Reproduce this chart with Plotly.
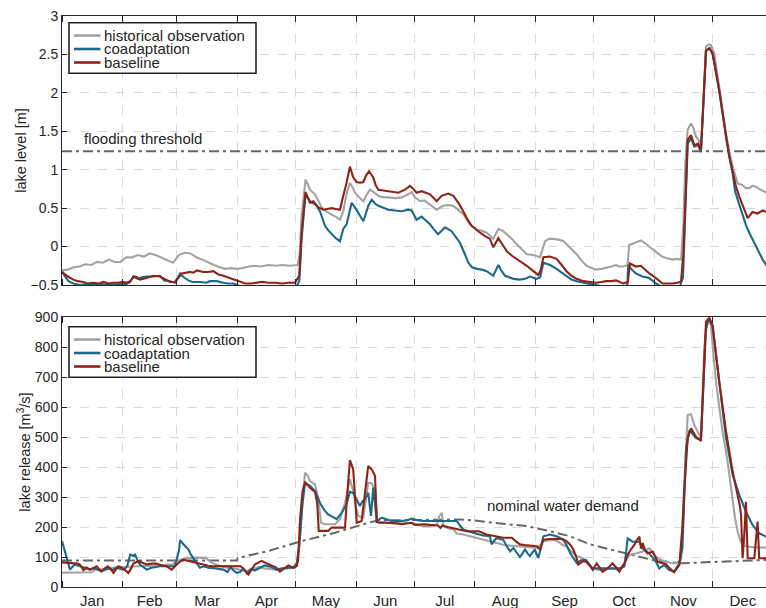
import plotly.graph_objects as go

# ---------------- data (day of year) ----------------
months = ["Jan", "Feb", "Mar", "Apr", "May", "Jun", "Jul", "Aug", "Sep", "Oct", "Nov", "Dec"]
month_starts = [0, 31, 59, 90, 120, 151, 181, 212, 243, 273, 304, 334]
month_mids = [15.5, 45, 74.5, 105, 135.5, 166, 196.5, 227.5, 258, 288.5, 319, 349.5]

flood_threshold = 1.24
threshold_days = [0, 365]

# lake level [m]
hist_level_days = [0, 3, 6, 9, 12, 15, 18, 21, 24, 27, 30, 33, 36, 39, 42, 45, 48, 51, 54, 57, 60, 63, 66, 69, 72, 75, 78, 81, 84, 87, 90, 93, 96, 99, 102, 106, 110, 113, 117, 121, 122, 123, 125, 126, 127.3, 129.9, 131.5, 133.3, 136, 138.4, 141, 142.7, 144.4, 146, 147.8, 149, 150.4, 152.5, 154.7, 156.5, 158.1, 160, 162.4, 165, 167.5, 171, 174.4, 177.8, 179.5, 181.2, 183.8, 186, 189, 192.3, 195.7, 198, 200.9, 203.5, 206, 209.4, 212.9, 215, 218, 221.4, 224, 226, 228.3, 231, 233.4, 236, 238.6, 242, 245.4, 246.5, 248, 250, 252.2, 255, 257.4, 261, 264.2, 267, 269.3, 272, 274, 277, 279, 282, 284.4, 286, 288, 290.3, 291.2, 293, 294.6, 297.2, 299, 301.5, 303.5, 305.8, 308, 310, 313.5, 315.5, 317.8, 319, 320, 321.2, 322.9, 324, 325.5, 327, 328, 329.3, 330.6, 332, 333.2, 334.9, 337.4, 339, 340.9, 342.5, 344.3, 346.9, 349.4, 351, 352.8, 354.5, 356.2, 358.5, 361.4, 365]
hist_level = [-0.31, -0.30, -0.27, -0.26, -0.23, -0.24, -0.20, -0.21, -0.17, -0.20, -0.20, -0.14, -0.14, -0.11, -0.13, -0.09, -0.11, -0.14, -0.18, -0.21, -0.11, -0.08, -0.09, -0.14, -0.17, -0.21, -0.24, -0.27, -0.29, -0.28, -0.29, -0.28, -0.26, -0.25, -0.26, -0.24, -0.25, -0.24, -0.25, -0.24, -0.10, 0.40, 0.87, 0.82, 0.74, 0.68, 0.60, 0.51, 0.45, 0.42, 0.38, 0.35, 0.46, 0.68, 0.83, 0.78, 0.70, 0.64, 0.59, 0.68, 0.74, 0.71, 0.66, 0.64, 0.64, 0.63, 0.64, 0.68, 0.71, 0.64, 0.59, 0.60, 0.54, 0.48, 0.53, 0.54, 0.53, 0.48, 0.42, 0.29, 0.22, 0.21, 0.18, 0.10, 0.23, 0.21, 0.16, 0.10, 0.03, -0.04, -0.10, -0.11, -0.14, -0.05, 0.07, 0.10, 0.10, 0.09, 0.07, -0.02, -0.10, -0.19, -0.25, -0.28, -0.30, -0.29, -0.28, -0.26, -0.24, -0.26, -0.26, -0.24, 0.02, 0.04, 0.05, 0.08, 0.05, 0.0, -0.05, -0.09, -0.13, -0.15, -0.17, -0.16, -0.17, 0.30, 1.10, 1.52, 1.60, 1.55, 1.43, 1.38, 1.26, 1.90, 2.60, 2.63, 2.62, 2.51, 2.08, 1.78, 1.47, 1.25, 1.04, 0.82, 0.80, 0.76, 0.76, 0.79, 0.78, 0.74, 0.70, 0.66]

coad_level_days = [0, 3.3, 5.8, 9, 13, 17, 21, 25, 29, 33, 35, 36.5, 38.9, 41, 43.5, 47, 50.3, 52.5, 55.5, 58, 60.6, 62.5, 64.9, 67, 70.8, 74, 76, 79.5, 82.8, 85, 88, 91, 95, 100, 105, 110, 115, 120, 121.8, 123, 125, 126, 127.3, 129.9, 131, 132.4, 133.7, 135, 136.7, 138.4, 140.5, 142.7, 144.4, 146.1, 147.5, 148.7, 150.4, 152.5, 154.7, 156, 157.2, 159, 160.7, 162.4, 165, 167.5, 171, 174.4, 177.8, 179.5, 182, 184.6, 186.8, 188.9, 191, 193.1, 196.6, 200, 202, 204.3, 206.5, 208.6, 210.5, 212.9, 215.5, 218, 221.4, 224, 225.5, 227.4, 231.7, 235, 237.7, 240.2, 243.7, 245.5, 247.1, 250.5, 253.9, 256.5, 259, 261.5, 264.2, 267, 269.5, 272, 274, 278, 283, 288, 290.2, 290.7, 292.5, 294.6, 298, 301.5, 304.9, 307, 312, 317, 318.8, 320, 321.2, 322.9, 324.6, 326.5, 328, 329.3, 330.6, 332.4, 334, 337.4, 339, 340.9, 342.5, 344.3, 345.5, 346.9, 348.6, 351.1, 352.8, 354.5, 356.2, 357.9, 359.7, 361.4, 365]
coad_level = [-0.33, -0.45, -0.48, -0.50, -0.49, -0.50, -0.49, -0.50, -0.49, -0.49, -0.46, -0.39, -0.42, -0.40, -0.39, -0.39, -0.38, -0.44, -0.45, -0.47, -0.35, -0.40, -0.44, -0.46, -0.46, -0.47, -0.45, -0.45, -0.47, -0.48, -0.48, -0.51, -0.53, -0.52, -0.53, -0.52, -0.53, -0.53, -0.45, 0.10, 0.68, 0.64, 0.59, 0.55, 0.52, 0.46, 0.36, 0.27, 0.21, 0.16, 0.11, 0.07, 0.23, 0.29, 0.45, 0.57, 0.51, 0.42, 0.33, 0.43, 0.53, 0.61, 0.56, 0.53, 0.50, 0.48, 0.47, 0.46, 0.48, 0.47, 0.35, 0.39, 0.34, 0.29, 0.22, 0.16, 0.25, 0.20, 0.13, 0.05, -0.08, -0.21, -0.27, -0.29, -0.30, -0.32, -0.38, -0.24, -0.31, -0.38, -0.42, -0.43, -0.42, -0.39, -0.42, -0.40, -0.21, -0.24, -0.29, -0.34, -0.39, -0.43, -0.45, -0.47, -0.48, -0.49, -0.50, -0.52, -0.52, -0.53, -0.50, -0.24, -0.30, -0.35, -0.39, -0.41, -0.48, -0.51, -0.53, -0.53, -0.40, 0.60, 1.34, 1.41, 1.30, 1.32, 1.23, 1.88, 2.55, 2.58, 2.51, 2.03, 1.73, 1.43, 1.18, 0.95, 0.72, 0.61, 0.48, 0.28, 0.18, 0.09, 0.0, -0.09, -0.17, -0.24, -0.38]

base_level_days = [0, 2.4, 5.8, 8, 10.9, 13, 16, 19, 21.2, 24, 26.3, 29, 31, 33, 35, 37, 38.5, 40, 42, 44, 47, 50.3, 53, 55.5, 58, 60, 61.5, 63.5, 65.7, 67.5, 69.2, 72.5, 75, 77.7, 80, 82.8, 85, 88, 91.4, 94, 97.3, 100, 102.5, 106, 109.3, 113, 116, 119.6, 121.8, 123, 125, 126, 127.3, 129, 130.5, 131.6, 134.1, 136, 138.4, 140.5, 142.7, 144.4, 146, 147.8, 149.5, 151.2, 153, 154.7, 156, 157.6, 159.8, 161, 162.4, 165, 167.5, 170, 172.7, 176.1, 178.6, 180, 182, 184.6, 186.5, 188.9, 190.5, 192.3, 194.9, 198.3, 200.9, 203.5, 206, 208, 210.3, 212.5, 214.6, 217, 219.7, 221.4, 224, 226, 228.3, 231, 233.4, 236, 238.6, 241.5, 244.5, 245.8, 247.1, 250.5, 252, 253.9, 256.5, 259, 261.5, 264.2, 267.6, 271, 274.1, 277, 279.3, 282, 284.4, 288, 290.5, 291.5, 294.6, 297.2, 299.5, 301.5, 304.9, 308.3, 311, 313.5, 316, 317.8, 319, 320, 321.2, 322.9, 324.6, 326.5, 328, 329.3, 330.6, 332.4, 334, 337.4, 339, 340.9, 342.5, 344.3, 346, 347.7, 350.3, 352, 354.5, 357.1, 359.7, 361.4, 365]
base_level = [-0.33, -0.38, -0.43, -0.45, -0.46, -0.48, -0.47, -0.48, -0.46, -0.48, -0.47, -0.47, -0.46, -0.47, -0.45, -0.39, -0.40, -0.43, -0.42, -0.40, -0.38, -0.39, -0.43, -0.46, -0.46, -0.40, -0.35, -0.34, -0.33, -0.34, -0.31, -0.33, -0.33, -0.32, -0.36, -0.38, -0.40, -0.43, -0.46, -0.48, -0.48, -0.47, -0.46, -0.47, -0.47, -0.48, -0.47, -0.47, -0.38, 0.18, 0.71, 0.65, 0.57, 0.59, 0.55, 0.51, 0.48, 0.49, 0.50, 0.49, 0.48, 0.66, 0.82, 1.04, 0.90, 0.84, 0.83, 0.84, 0.92, 0.98, 0.90, 0.80, 0.74, 0.73, 0.72, 0.71, 0.70, 0.74, 0.79, 0.76, 0.70, 0.72, 0.70, 0.68, 0.64, 0.59, 0.66, 0.69, 0.66, 0.57, 0.46, 0.36, 0.27, 0.22, 0.18, 0.14, 0.10, -0.01, 0.11, 0.03, -0.06, -0.12, -0.16, -0.21, -0.25, -0.31, -0.37, -0.30, -0.14, -0.13, -0.14, -0.16, -0.24, -0.32, -0.38, -0.42, -0.45, -0.46, -0.47, -0.46, -0.45, -0.45, -0.44, -0.48, -0.46, -0.22, -0.26, -0.25, -0.30, -0.35, -0.41, -0.48, -0.48, -0.48, -0.47, -0.45, -0.09, 0.70, 1.39, 1.45, 1.32, 1.34, 1.26, 1.90, 2.55, 2.58, 2.51, 2.03, 1.73, 1.43, 1.18, 0.95, 0.78, 0.65, 0.48, 0.37, 0.45, 0.43, 0.47, 0.45, 0.47]

# lake release [m3/s]
demand_days = [0, 89.9, 90.1, 105.9, 123, 140.2, 157.2, 162.4, 205, 213, 221.4, 238.6, 250.5, 260.8, 271.1, 286.1, 303.2, 316.9, 337.4, 361.4, 365]
demand = [88, 88, 96, 120, 153, 181, 214, 222, 225, 221, 214, 203, 186, 169, 142, 118, 90, 79, 84, 90, 91]

hist_release_days = [0, 3, 6, 9, 12, 15, 17, 19, 21, 24, 27, 30, 33, 36, 39, 42, 45, 48, 51, 54, 57, 58.5, 60, 62, 64, 67, 70, 74, 76, 78, 81, 84, 87, 90, 92, 95, 98, 101, 104, 107, 110, 113, 116, 119.6, 121, 122.2, 123.5, 124.8, 126, 127.3, 129.9, 130.8, 131.6, 133, 135, 137.5, 140.2, 142.7, 145.3, 147.8, 149.5, 150.8, 152.1, 154.7, 156, 157.2, 159, 160.7, 162, 165.8, 170, 175, 178.6, 181.2, 185.5, 190, 192.5, 193.7, 195, 195.8, 198, 201, 202.6, 206, 209, 212.9, 216, 219.7, 222, 224.9, 227, 230, 233, 236.9, 240, 243.7, 245.5, 247.1, 250, 252.2, 255, 257, 259, 261.5, 264.2, 267.5, 269, 272.4, 275, 277.5, 282, 286.1, 288.7, 291.2, 294.6, 298, 301.5, 303, 304.9, 307.5, 310, 312.5, 315.2, 317.7, 319.5, 321.2, 322.9, 324.6, 326.3, 328, 329.7, 331.4, 333.1, 335.7, 337.4, 339.1, 341.7, 343, 344.3, 345.5, 346.9, 348.2, 349.4, 351, 352.8, 356, 361.4, 365]
hist_release = [48, 48, 47, 48, 48, 49, 56, 57, 58, 62, 65, 66, 68, 70, 69, 70, 70, 71, 72, 73, 76, 86, 88, 93, 97, 98, 98, 97, 84, 78, 70, 65, 63, 60, 56, 53, 60, 66, 62, 60, 58, 60, 62, 64, 90, 159, 300, 381, 372, 353, 342, 320, 292, 214, 209, 209, 209, 226, 281, 359, 320, 270, 237, 231, 300, 348, 346, 320, 217, 214, 213, 212, 214, 210, 203, 203, 210, 236, 247, 203, 196, 192, 178, 175, 170, 164, 158, 153, 147, 142, 140, 138, 137, 136, 133, 130, 140, 153, 156, 158, 150, 140, 136, 118, 103, 95, 84, 62, 58, 57, 62, 57, 79, 107, 112, 118, 129, 118, 101, 90, 84, 80, 79, 90, 351, 573, 576, 540, 518, 496, 796, 896, 873, 684, 600, 518, 418, 350, 284, 230, 184, 155, 140, 136, 134, 132, 131, 131]

coad_release_days = [0, 1, 2, 3, 4.1, 5.5, 6.7, 8, 9.2, 11, 12.7, 14, 16, 18, 20, 22, 24, 26, 28, 30, 32, 33.5, 35, 36.5, 37.5, 39, 40, 42, 43.5, 46, 48, 50.3, 53, 56, 58, 60, 60.6, 62, 63.1, 64.9, 66, 67.4, 69, 70.8, 73, 75, 78, 80, 82.8, 85, 86.5, 88, 89.7, 91.4, 93, 95, 97, 99, 101, 104, 107, 110, 113, 116, 119, 120.5, 121.8, 123.5, 124.8, 126, 127.3, 129.9, 131, 132.4, 134.5, 136.6, 139, 141, 143.6, 146.1, 147.8, 149.5, 151, 152.9, 154.2, 155.5, 157.2, 158.6, 159.8, 160.8, 161.6, 164.1, 166.5, 169.2, 174, 177, 179.5, 181, 183, 186, 190, 195, 200, 202.6, 204.3, 206, 209, 212.9, 216, 219.7, 220.5, 222, 223.1, 224.8, 226.5, 228.3, 230, 231.7, 233.4, 235.1, 236.4, 237.7, 239, 240.2, 241.5, 242.8, 243.6, 244.5, 245.8, 247.1, 250.5, 253.9, 257.4, 259, 260.8, 262.5, 264.2, 266, 267.6, 269, 270.7, 272.4, 275, 277.5, 282, 286.1, 288.7, 290.4, 292.9, 296.4, 298, 301.5, 304.9, 306.6, 309, 311.6, 314.2, 316.9, 318.5, 320.4, 322.1, 325.5, 328, 330.6, 332.3, 334, 337.4, 340.9, 344.3, 347.7, 351.1, 354.5, 357.9, 361.4, 365]
coad_release = [153, 130, 103, 80, 58, 68, 75, 72, 69, 66, 64, 58, 62, 60, 52, 58, 62, 56, 65, 60, 58, 70, 108, 104, 108, 85, 75, 65, 58, 64, 67, 69, 69, 70, 70, 120, 156, 145, 136, 125, 110, 97, 80, 64, 69, 64, 63, 60, 58, 50, 67, 55, 47, 50, 62, 45, 60, 55, 62, 72, 68, 58, 62, 64, 66, 80, 137, 280, 348, 342, 337, 320, 300, 281, 258, 242, 234, 226, 248, 276, 317, 314, 295, 270, 285, 292, 314, 237, 331, 270, 220, 231, 225, 220, 220, 222, 228, 225, 222, 220, 220, 220, 220, 220, 205, 192, 185, 178, 172, 169, 142, 155, 164, 160, 158, 136, 119, 130, 115, 100, 112, 125, 112, 103, 115, 125, 110, 97, 130, 169, 175, 169, 158, 140, 114, 95, 80, 88, 91, 90, 75, 62, 62, 62, 62, 62, 68, 162, 151, 151, 129, 112, 84, 62, 73, 57, 51, 79, 129, 462, 523, 496, 490, 862, 896, 873, 684, 496, 373, 307, 251, 207, 179, 168, 160]

base_release_days = [0, 3, 5.8, 8, 9.2, 11, 12.7, 14.5, 16, 17.8, 19, 20.4, 22, 23.5, 25, 26.4, 28.9, 30.5, 32, 34.1, 35.5, 36.6, 39.2, 41, 43.5, 46, 48.6, 51, 53.7, 56.3, 58.9, 60.5, 62.3, 64.5, 67.4, 70, 72.5, 75, 77.7, 80, 84, 87, 89.7, 91.5, 93, 95.7, 97.5, 99.1, 101, 102.5, 104, 105.9, 108, 110, 111.9, 114, 116.2, 118.8, 120.5, 121.2, 122.2, 123.5, 124.8, 126, 127.3, 129.9, 131, 131.8, 134, 136.6, 138.4, 142, 145.3, 146.1, 147.8, 149.5, 150.5, 151.3, 153.8, 155.5, 157.2, 159, 160.7, 161.6, 163, 166, 169.2, 172, 174.4, 177, 179.5, 181.2, 183.5, 186, 189, 193, 194.3, 195.2, 198, 201, 204.3, 207.7, 211, 214, 218, 222, 226.5, 229, 231, 233, 235.1, 237.5, 240.2, 243.7, 245.4, 246.5, 247.1, 250, 253, 255.6, 257, 259, 261, 262.5, 264, 265, 267.6, 269, 271.1, 272.4, 274.5, 277.5, 280, 282.6, 284.5, 286.1, 288.7, 290.4, 292, 293.8, 295, 296.4, 297.2, 298.1, 299.5, 300.6, 303.2, 305.8, 308, 310, 312, 314.2, 316.9, 318.5, 319.5, 321.2, 322.9, 325.5, 328, 329.3, 330.6, 332.3, 334, 337.4, 340.9, 344.3, 346.9, 348, 348.6, 349.4, 350.3, 351.1, 352, 355.4, 357.1, 357.9, 361.4, 365]
base_release = [82, 81, 80, 78, 75, 56, 64, 58, 63, 69, 60, 52, 62, 69, 60, 47, 69, 65, 58, 47, 62, 78, 86, 82, 75, 78, 78, 72, 69, 58, 75, 85, 91, 88, 82, 78, 75, 71, 69, 70, 69, 69, 69, 70, 62, 42, 60, 76, 82, 87, 82, 76, 72, 65, 51, 60, 72, 64, 70, 90, 226, 320, 348, 340, 331, 317, 280, 187, 187, 187, 198, 198, 198, 281, 423, 392, 300, 214, 220, 303, 403, 392, 370, 217, 214, 214, 214, 212, 209, 212, 214, 207, 209, 209, 207, 205, 197, 205, 200, 196, 192, 186, 186, 186, 175, 170, 164, 164, 164, 152, 142, 140, 138, 136, 125, 145, 158, 160, 160, 161, 158, 153, 140, 125, 100, 75, 86, 84, 70, 57, 79, 51, 62, 79, 65, 51, 79, 107, 125, 140, 155, 168, 129, 146, 120, 112, 118, 84, 80, 76, 62, 49, 73, 200, 329, 496, 529, 501, 487, 700, 884, 896, 868, 684, 518, 384, 307, 270, 240, 96, 180, 284, 96, 96, 218, 96, 96, 96]

series_names = ["historical observation", "coadaptation", "baseline"]

# ---------------- styling ----------------
GRAY = "#a3a3a3"
BLUE = "#1b6a8c"
RED = "#8e2417"
COLORS = [GRAY, BLUE, RED]
DEMAND = "#666666"
TXT = "#262626"
GRID = "#dadada"
FONT = "Liberation Sans, Arial, sans-serif"
LW = 2.1
DASHDOT = "10px,4px,3px,4px"
FS = 15
TICKFS = 14

W, H = 766, 608
ML, MR, MT, MB = 62, 0, 16, 21


def px_x(px):
    return (px - ML) / (W - ML - MR)


def px_y(py):
    return (H - MB - py) / (H - MT - MB)


fig = go.Figure()

fig.add_trace(go.Scatter(x=threshold_days, y=[flood_threshold] * len(threshold_days), mode="lines",
                         line=dict(color=DEMAND, width=2, dash=DASHDOT),
                         showlegend=False, hoverinfo="skip", xaxis="x", yaxis="y"))
for name, xs, ys, col in zip(series_names, [hist_level_days, coad_level_days, base_level_days],
                             [hist_level, coad_level, base_level], COLORS):
    fig.add_trace(go.Scatter(x=xs, y=ys, name=name, mode="lines", showlegend=False,
                             line=dict(color=col, width=LW), xaxis="x", yaxis="y"))

fig.add_trace(go.Scatter(x=demand_days, y=demand, mode="lines",
                         line=dict(color=DEMAND, width=2, dash=DASHDOT),
                         showlegend=False, hoverinfo="skip", xaxis="x2", yaxis="y2"))
for name, xs, ys, col in zip(series_names, [hist_release_days, coad_release_days, base_release_days],
                             [hist_release, coad_release, base_release], COLORS):
    fig.add_trace(go.Scatter(x=xs, y=ys, name=name, mode="lines", showlegend=False,
                             line=dict(color=col, width=LW), xaxis="x2", yaxis="y2"))

xcommon = dict(
    range=[0, 361.4], tickmode="array", tickvals=month_mids, ticktext=months,
    ticks="", showgrid=False, zeroline=False, automargin=False,
    showline=True, linecolor=TXT, linewidth=1, mirror="allticks",
    minor=dict(tickmode="array", tickvals=month_starts, ticks="inside", ticklen=6,
               tickcolor=TXT, tickwidth=1, showgrid=True, gridcolor=GRID,
               griddash="dash", gridwidth=1),
    tickfont=dict(family=FONT, size=FS, color=TXT),
)
ycommon = dict(
    zeroline=False, showline=True, linecolor=TXT, linewidth=1, automargin=False,
    ticks="inside", ticklen=5, tickcolor=TXT,
    showgrid=True, gridcolor=GRID, griddash="dash",
    tickfont=dict(family=FONT, size=TICKFS, color=TXT),
)

# hand-built legends (compact, as in the reference)
shapes = []
annotations = [
    dict(x=10.3, y=1.41, xref="x", yref="y", text="flooding threshold", showarrow=False,
         xanchor="left", yanchor="middle", font=dict(family=FONT, size=FS, color=TXT)),
    dict(x=217, y=273, xref="x2", yref="y2", text="nominal water demand", showarrow=False,
         xanchor="left", yanchor="middle", font=dict(family=FONT, size=FS, color=TXT)),
]
for box_top, rows in [(22.7, [35.5, 49, 62.5]), (326.7, [339.5, 353, 366.5])]:
    shapes.append(dict(type="rect", xref="paper", yref="paper",
                       x0=px_x(69), x1=px_x(256), y0=px_y(box_top + 50.6), y1=px_y(box_top),
                       line=dict(color=TXT, width=1.6), fillcolor="white", layer="above"))
    for name, col, ry in zip(series_names, COLORS, rows):
        shapes.append(dict(type="line", xref="paper", yref="paper",
                           x0=px_x(74), x1=px_x(100.5), y0=px_y(ry), y1=px_y(ry),
                           line=dict(color=col, width=2.6), layer="above"))
        annotations.append(dict(x=px_x(102), y=px_y(ry), xref="paper", yref="paper",
                                text=name, showarrow=False, xanchor="left", yanchor="middle",
                                font=dict(family=FONT, size=FS, color=TXT)))

fig.update_layout(
    width=W, height=H,
    margin=dict(l=ML, r=MR, t=MT, b=MB, autoexpand=False),
    paper_bgcolor="white", plot_bgcolor="white",
    font=dict(family=FONT, color=TXT),
    showlegend=False,
    xaxis=dict(xcommon, domain=[0, 1], anchor="y", showticklabels=False),
    yaxis=dict(ycommon, domain=[px_y(285), 1.0], anchor="x", range=[-0.5, 3], dtick=0.5,
               title=dict(text="lake level [m]", font=dict(family=FONT, size=14.5, color=TXT), standoff=0)),
    xaxis2=dict(xcommon, domain=[0, 1], anchor="y2"),
    yaxis2=dict(ycommon, domain=[0, px_y(317)], anchor="x2", range=[0, 900], dtick=100,
                title=dict(text="lake release [m<sup>3</sup>/s]", font=dict(family=FONT, size=14.5, color=TXT), standoff=0)),
    shapes=shapes,
    annotations=annotations,
)

# remove the browser's default 8px page margin so the figure sits at the top-left corner
fig.write_html("out.html", config={"displayModeBar": False},
               post_script="document.body.style.margin='0';document.body.style.padding='0';")
